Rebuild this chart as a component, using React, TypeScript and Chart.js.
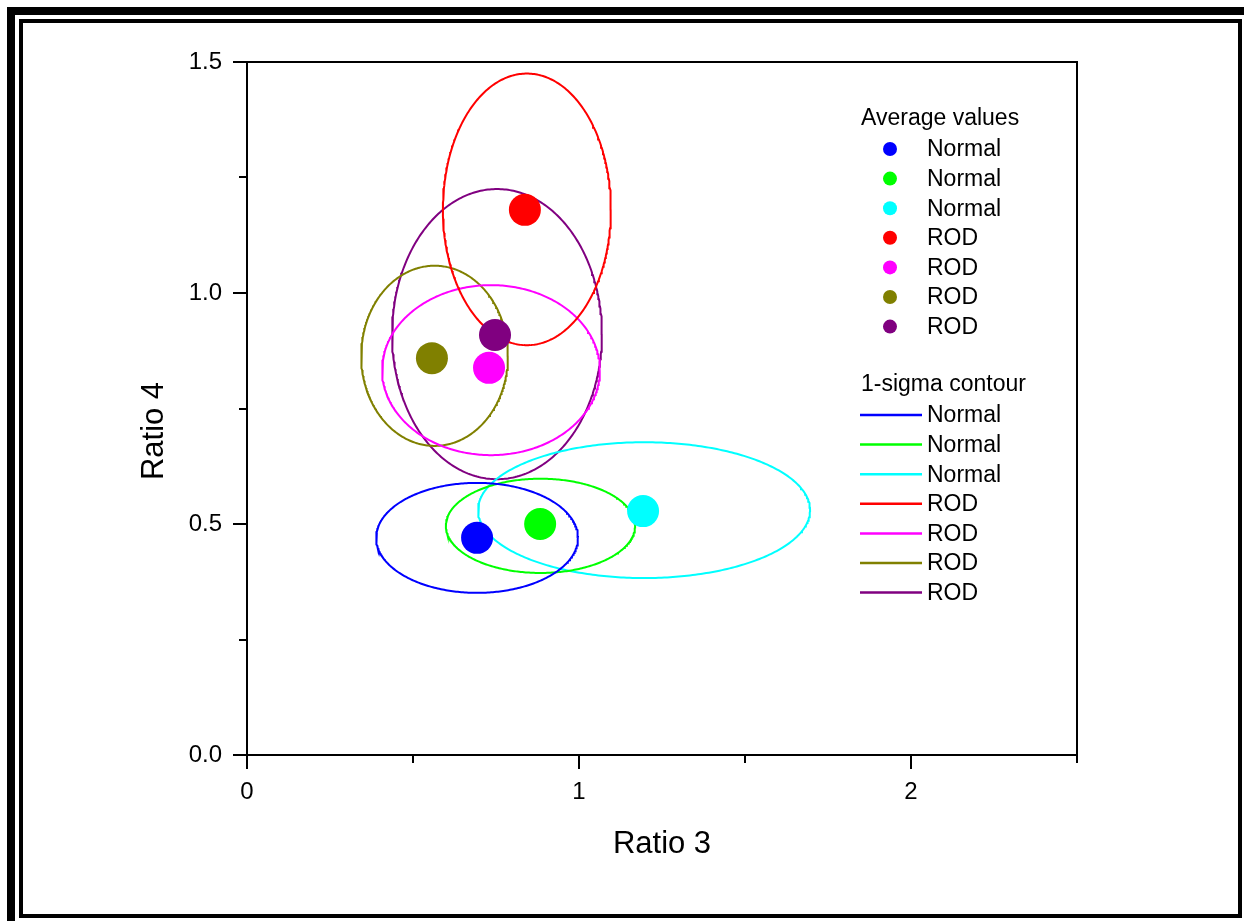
import React, { useEffect, useRef } from 'react';
import { Chart, registerables } from 'chart.js';

Chart.register(...registerables);

const seriesLabels = ['Normal', 'Normal', 'Normal', 'ROD', 'ROD', 'ROD', 'ROD'];
const seriesColors = ['#0000FF', '#00FF00', '#00FFFF', '#FF0000', '#FF00FF', '#808000', '#800080'];
const meanX = [0.693, 0.883, 1.193, 0.837, 0.729, 0.557, 0.747];
const meanY = [0.470, 0.500, 0.528, 1.180, 0.838, 0.859, 0.909];
const contourCX = [0.693, 0.884, 1.196, 0.843, 0.735, 0.565, 0.753];
const contourCY = [0.470, 0.496, 0.530, 1.181, 0.833, 0.864, 0.911];
const sigmaX = [0.304, 0.285, 0.500, 0.253, 0.328, 0.221, 0.316];
const sigmaY = [0.119, 0.102, 0.147, 0.294, 0.184, 0.195, 0.314];
const xMajorTicks = [0, 1, 2];
const xMinorTicks = [0.5, 1.5, 2.5];
const yMajorTicks = [0, 0.5, 1.0, 1.5];
const yMinorTicks = [0.25, 0.75, 1.25];
const xTitle = 'Ratio 3';
const yTitle = 'Ratio 4';
const legendTitleMeans = 'Average values';
const legendTitleContours = '1-sigma contour';

const FONT = "'Liberation Sans', Arial, sans-serif";
const W = 1244;
const H = 921;

function ellipsePoints(cx: number, cy: number, rx: number, ry: number) {
  const n = 360;
  const pts: { x: number; y: number }[] = [];
  for (let k = 0; k <= n; k++) {
    const t = (2 * Math.PI * k) / n;
    pts.push({ x: cx + rx * Math.cos(t), y: cy + ry * Math.sin(t) });
  }
  return pts;
}

const decorPlugin = {
  id: 'decor',
  beforeDraw(chart: any) {
    const ctx = chart.ctx as CanvasRenderingContext2D;
    ctx.save();
    ctx.fillStyle = '#ffffff';
    ctx.fillRect(0, 0, W, H);
    ctx.fillStyle = '#000000';
    ctx.fillRect(7, 7, W - 7, 8);
    ctx.fillRect(7, 7, 8, H - 7);
    ctx.strokeStyle = '#000000';
    ctx.lineWidth = 4;
    ctx.strokeRect(21, 21, 1219, 895);
    ctx.restore();
  },
  afterDraw(chart: any) {
    const ctx = chart.ctx as CanvasRenderingContext2D;
    const ca = chart.chartArea;
    const xs = chart.scales.x;
    const ys = chart.scales.y;
    ctx.save();
    ctx.strokeStyle = '#000000';
    ctx.lineWidth = 2;
    ctx.beginPath();
    ctx.moveTo(ca.left, ca.top);
    ctx.lineTo(ca.right, ca.top);
    ctx.lineTo(ca.right, ca.bottom);
    ctx.stroke();
    ctx.beginPath();
    for (const v of xMinorTicks) {
      const px = Math.round(xs.getPixelForValue(v));
      ctx.moveTo(px, ca.bottom);
      ctx.lineTo(px, ca.bottom + 8);
    }
    for (const v of yMinorTicks) {
      const py = Math.round(ys.getPixelForValue(v));
      ctx.moveTo(ca.left, py);
      ctx.lineTo(ca.left - 8, py);
    }
    ctx.stroke();

    ctx.fillStyle = '#000000';
    ctx.font = `31px ${FONT}`;
    ctx.textAlign = 'center';
    ctx.textBaseline = 'alphabetic';
    ctx.fillText(xTitle, (ca.left + ca.right) / 2, 853);
    ctx.save();
    ctx.translate(163, 431);
    ctx.rotate(-Math.PI / 2);
    ctx.fillText(yTitle, 0, 0);
    ctx.restore();

    const rowH = 29.6;
    ctx.font = `23px ${FONT}`;
    ctx.textAlign = 'left';
    ctx.textBaseline = 'middle';
    ctx.fillText(legendTitleMeans, 861, 119);
    seriesLabels.forEach((lab, i) => {
      const y = 149 + i * rowH;
      ctx.fillStyle = seriesColors[i];
      ctx.beginPath();
      ctx.arc(890, y, 7, 0, Math.PI * 2);
      ctx.fill();
      ctx.fillStyle = '#000000';
      ctx.fillText(lab, 927, y + 1);
    });
    ctx.fillText(legendTitleContours, 861, 385);
    seriesLabels.forEach((lab, i) => {
      const y = 415 + i * rowH;
      ctx.strokeStyle = seriesColors[i];
      ctx.lineWidth = 2.5;
      ctx.beginPath();
      ctx.moveTo(860, y);
      ctx.lineTo(922, y);
      ctx.stroke();
      ctx.fillStyle = '#000000';
      ctx.fillText(lab, 927, y + 1);
    });
    ctx.restore();
  },
};

export default function App() {
  const ref = useRef<HTMLCanvasElement>(null);
  useEffect(() => {
    if (!ref.current) return;
    const contourSets = seriesLabels.map((lab, i) => ({
      type: 'scatter' as const,
      label: `${lab} contour`,
      data: ellipsePoints(contourCX[i], contourCY[i], sigmaX[i], sigmaY[i]),
      showLine: true,
      borderColor: seriesColors[i],
      backgroundColor: seriesColors[i],
      borderWidth: 2,
      pointRadius: 0,
      tension: 0,
      fill: false,
      order: 2,
    }));
    const meanSets = seriesLabels.map((lab, i) => ({
      type: 'scatter' as const,
      label: lab,
      data: [{ x: meanX[i], y: meanY[i] }],
      backgroundColor: seriesColors[i],
      borderColor: seriesColors[i],
      borderWidth: 0,
      pointRadius: 16,
      order: 1,
    }));
    const chart = new Chart(ref.current, {
      type: 'scatter',
      data: { datasets: [...contourSets, ...meanSets] as any },
      options: {
        animation: false,
        responsive: false,
        events: [],
        layout: { padding: { left: 0, top: 62, right: W - 1077, bottom: 0 } },
        plugins: { legend: { display: false }, tooltip: { enabled: false } },
        scales: {
          x: {
            type: 'linear',
            min: 0,
            max: 2.5,
            afterBuildTicks: (s: any) => {
              s.ticks = xMajorTicks.map((v) => ({ value: v }));
            },
            afterFit: (s: any) => {
              s.height = H - 755;
            },
            ticks: {
              color: '#000000',
              font: { family: FONT, size: 24 },
              padding: 9,
              callback: (v: any) => String(v),
            },
            grid: {
              display: true,
              drawOnChartArea: false,
              drawTicks: true,
              tickLength: 14,
              lineWidth: 2,
              color: '#000000',
            },
            border: { display: true, width: 2, color: '#000000' },
          },
          y: {
            type: 'linear',
            min: 0,
            max: 1.5,
            afterBuildTicks: (s: any) => {
              s.ticks = yMajorTicks.map((v) => ({ value: v }));
            },
            afterFit: (s: any) => {
              s.width = 247;
            },
            ticks: {
              color: '#000000',
              font: { family: FONT, size: 24 },
              padding: 11,
              callback: (v: any) => Number(v).toFixed(1),
            },
            grid: {
              display: true,
              drawOnChartArea: false,
              drawTicks: true,
              tickLength: 14,
              lineWidth: 2,
              color: '#000000',
            },
            border: { display: true, width: 2, color: '#000000' },
          },
        },
      },
      plugins: [decorPlugin],
    });
    return () => chart.destroy();
  }, []);
  return (
    <div style={{ position: 'absolute', left: 0, top: 0, width: W, height: H, background: '#fff' }}>
      <canvas ref={ref} width={W} height={H} style={{ display: 'block' }} />
    </div>
  );
}
